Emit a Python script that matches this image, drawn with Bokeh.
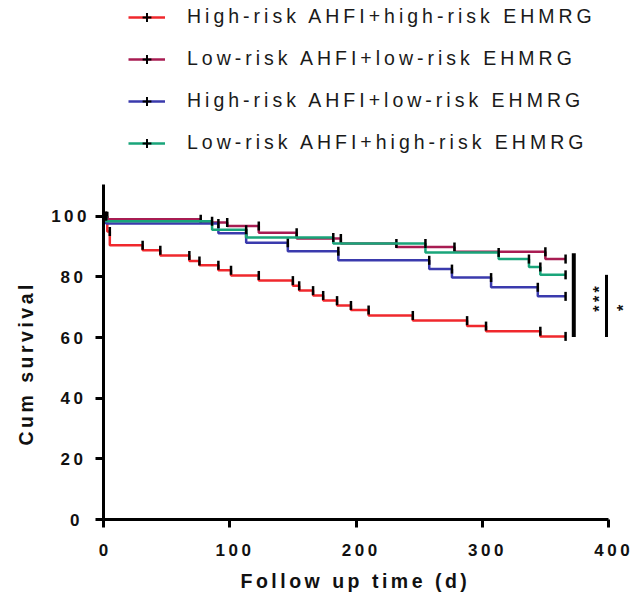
import math
from bokeh.plotting import figure
from bokeh.layouts import column
from bokeh.models import Range1d, FixedTicker, Legend, LegendItem, Label, Title
from bokeh.embed import file_html
from bokeh.resources import INLINE

# ---------------- data ----------------
group_names = [
    "High-risk AHFI+high-risk EHMRG",
    "Low-risk AHFI+low-risk EHMRG",
    "High-risk AHFI+low-risk EHMRG",
    "Low-risk AHFI+high-risk EHMRG",
]
group_colors = ["#f0282d", "#a81c52", "#3a3aad", "#19a57a"]

hh_time = [0, 3, 5, 31, 45, 68, 76, 91, 101, 123, 150, 155, 166, 174, 185, 196, 210, 245, 288, 303, 346, 366]
hh_surv = [100, 95.0, 90.5, 88.8, 87.1, 85.3, 83.9, 82.2, 80.5, 78.8, 77.1, 75.5, 73.9, 72.2, 70.6, 69.1, 67.3, 65.6, 63.8, 62.1, 60.4, 60.4]

ll_time = [0, 2, 77, 98, 123, 153, 188, 232, 278, 350, 366]
ll_surv = [100, 99.0, 98.0, 96.8, 94.6, 92.7, 91.0, 89.9, 88.3, 85.9, 85.9]

hl_time = [0, 2, 91, 113, 146, 186, 258, 276, 307, 344, 366]
hl_surv = [100, 97.6, 94.4, 91.3, 88.5, 85.5, 82.6, 79.8, 76.6, 73.6, 73.6]

lh_time = [0, 2, 86, 113, 182, 255, 313, 337, 346, 366]
lh_surv = [100, 98.4, 95.6, 93.0, 91.0, 88.1, 85.9, 83.3, 80.7, 80.7]

series_time = [hh_time, ll_time, hl_time, lh_time]
series_surv = [hh_surv, ll_surv, hl_surv, lh_surv]

x_ticks = [0, 100, 200, 300, 400]
y_ticks = [0, 20, 40, 60, 80, 100]

x_title = "Follow up time (d)"
y_title = "Cum survival"

sig_bar_x = [372.5, 398.4]
sig_bar_low = [60.2, 60.2]
sig_bar_high = [87.8, 80.7]
sig_bar_width = [4, 3]
sig_text = ["***", "*"]
sig_text_x = [392.5, 411.5]
sig_text_y = [68.5, 68.8]

font = "Liberation Sans"

# ---------------- legend figure (same series, view range kept away from the data) ----------------
leg = figure(width=633, height=184, output_backend="svg", toolbar_location=None,
             x_axis_type=None, y_axis_type=None,
             x_range=Range1d(-2, -1), y_range=Range1d(-2, -1),
             min_border=0)
leg.styles = {"letter-spacing": "4px"}
leg.outline_line_color = None
leg.grid.visible = False

items = []
for name, color, t, s in zip(group_names, group_colors, series_time, series_surv):
    r_line = leg.step(t, s, mode="after", line_color=color, line_width=2.5)
    r_tick = leg.scatter(t[1:], s[:-1], marker="cross", size=9,
                         line_color="black", line_width=2, fill_color=None)
    items.append(LegendItem(label=name, renderers=[r_line, r_tick]))

legend = Legend(items=items, location=(25, 30),
                glyph_width=37, glyph_height=22, label_height=22, spacing=19,
                padding=0, margin=0, label_standoff=22,
                border_line_color=None, background_fill_alpha=0,
                label_text_font=font, label_text_font_size="19.5px",
                label_text_color="#1a1a1a")
leg.add_layout(legend, "center")

# ---------------- main figure ----------------
p = figure(width=633, height=417, output_backend="svg", toolbar_location=None,
           x_range=Range1d(0, 419.8), y_range=Range1d(0, 110.5),
           min_border_left=103, min_border_right=0, min_border_top=0, min_border_bottom=80)
p.styles = {"letter-spacing": "3.5px"}
p.outline_line_color = None
p.grid.visible = False
p.background_fill_color = "white"
p.border_fill_color = "white"

for ax in (p.xaxis[0], p.yaxis[0]):
    ax.axis_line_width = 3
    ax.axis_line_color = "black"
    ax.major_tick_line_width = 3
    ax.major_tick_line_color = "black"
    ax.major_tick_out = 8
    ax.major_tick_in = 0
    ax.minor_tick_line_color = None
    ax.major_label_text_font = font
    ax.major_label_text_font_style = "bold"
    ax.major_label_text_font_size = "17px"
    ax.major_label_text_color = "#111111"

p.xaxis.ticker = FixedTicker(ticks=x_ticks)
p.yaxis.ticker = FixedTicker(ticks=y_ticks)
p.xaxis.bounds = (0, 400)
p.xaxis.major_label_standoff = 16
p.yaxis.major_label_standoff = 16

p.add_layout(Title(text=x_title, align="left", offset=137, standoff=19,
                   text_font=font, text_font_style="bold", text_font_size="19.5px",
                   text_color="#111111"), "below")
p.add_layout(Title(text=y_title, align="left", offset=74, standoff=24,
                   text_font=font, text_font_style="bold", text_font_size="19.5px",
                   text_color="#111111"), "left")

for color, t, s in zip(group_colors, series_time, series_surv):
    p.step(t, s, mode="after", line_color=color, line_width=2.5)
    p.scatter(t[1:], s[:-1], marker="dash", angle=math.pi / 2, size=9,
              line_color="black", line_width=2.5, fill_color=None)

p.segment(x0=sig_bar_x, y0=sig_bar_low, x1=sig_bar_x, y1=sig_bar_high,
          line_color="black", line_width=sig_bar_width)

for txt, tx, ty in zip(sig_text, sig_text_x, sig_text_y):
    p.add_layout(Label(x=tx, y=ty, text=txt, angle=math.pi / 2,
                       text_align="left", text_baseline="middle",
                       text_font=font, text_font_style="bold",
                       text_font_size="16px", text_color="#111111"))

layout = column(leg, p, spacing=0)
open("out.html", "w").write(file_html(layout, INLINE))
